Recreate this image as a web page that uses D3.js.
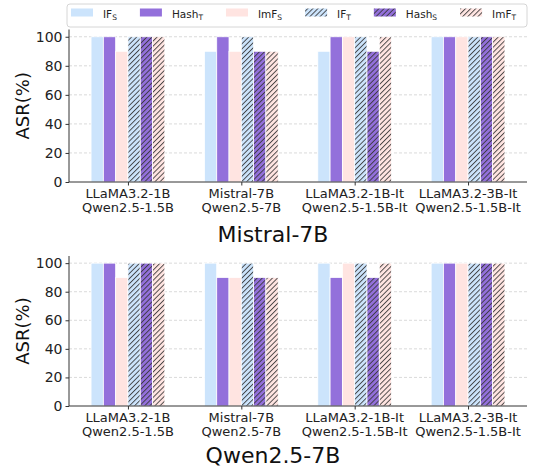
<!DOCTYPE html>
<html>
<head>
<meta charset="utf-8">
<script src="https://cdn.jsdelivr.net/npm/d3@7"></script>
<style>
body{margin:0;background:#fff;}
svg{font-family:"DejaVu Sans",sans-serif;}
</style>
</head>
<body>
<script>
var width = 533;
var height = 470;

var groups = [['LLaMA3.2-1B','Qwen2.5-1.5B'],['Mistral-7B','Qwen2.5-7B'],['LLaMA3.2-1B-It','Qwen2.5-1.5B-It'],['LLaMA3.2-3B-It','Qwen2.5-1.5B-It']];
var seriesNames = [['IF','S'],['Hash','T'],['ImF','S'],['IF','T'],['Hash','S'],['ImF','T']];
var seriesColors = ['#cce4fc','#9370db','#ffe4e1','#cce4fc','#9370db','#ffe4e1'];
var seriesHatch = [false,false,false,true,true,true];
var yTicks = [0,20,40,60,80,100];

// values per series, one entry per group
var mistralIFS   = [100, 90, 90,100];
var mistralHashT = [100,100,100,100];
var mistralImFS  = [ 90, 90,100,100];
var mistralIFT   = [100,100,100,100];
var mistralHashS = [100, 90, 90,100];
var mistralImFT  = [100, 90,100,100];

var qwenIFS   = [100,100,100,100];
var qwenHashT = [100, 90, 90,100];
var qwenImFS  = [ 90, 90,100,100];
var qwenIFT   = [100,100,100,100];
var qwenHashS = [100, 90, 90,100];
var qwenImFT  = [100, 90,100,100];

var panels = [
	{title:'Mistral-7B', series:[mistralIFS,mistralHashT,mistralImFS,mistralIFT,mistralHashS,mistralImFT], bottom:182, top:29.5, titleY:241.5},
	{title:'Qwen2.5-7B', series:[qwenIFS,qwenHashT,qwenImFS,qwenIFT,qwenHashS,qwenImFT], bottom:406, top:256, titleY:463}
];

var left = 69, right = 527;
var svg = d3.select('body').append('svg').attr('width',width).attr('height',height);

var defs = svg.append('defs');
var hs = 3.6;
seriesColors.forEach(function(c,i){
	if(!seriesHatch[i]) return;
	var p = defs.append('pattern').attr('id','hatch'+i)
		.attr('patternUnits','userSpaceOnUse').attr('width',hs).attr('height',hs)
		.attr('patternTransform','rotate(45)');
	p.append('rect').attr('width',hs).attr('height',hs).attr('fill',c);
	p.append('line').attr('x1',0.5).attr('x2',0.5).attr('y1',0).attr('y2',hs)
		.attr('stroke','#333').attr('stroke-width',0.85);
});

var x = d3.scalePoint().domain(d3.range(groups.length)).range([left,right]).padding(0.52);
var barW = 12.3;

panels.forEach(function(panel){
	var y = d3.scaleLinear().domain([0,105]).range([panel.bottom,panel.top]);
	var g = svg.append('g');

	// grid
	g.selectAll('.grid').data(yTicks.slice(1)).enter().append('line')
		.attr('x1',left).attr('x2',right)
		.attr('y1',d=>y(d)).attr('y2',d=>y(d))
		.attr('stroke','#d0d0d0').attr('stroke-width',0.8).attr('stroke-dasharray','3,2');

	// bars
	panel.series.forEach(function(vals,s){
		g.selectAll(null).data(vals).enter().append('rect')
			.attr('x',(d,i)=>x(i)+(s-3)*barW)
			.attr('width',barW)
			.attr('y',d=>y(d))
			.attr('height',d=>y(0)-y(d))
			.attr('fill',seriesHatch[s] ? 'url(#hatch'+s+')' : seriesColors[s])
			.attr('stroke','#fff').attr('stroke-width',0.8);
	});

	// y axis
	var ya = g.append('g').attr('transform','translate('+left+',0)')
		.call(d3.axisLeft(y).tickValues(yTicks).tickSize(3.5).tickPadding(3));
	ya.select('.domain').attr('stroke','#333').attr('d','M0,'+panel.top+'V'+panel.bottom);
	ya.selectAll('.tick line').attr('stroke','#333');
	ya.selectAll('.tick text').attr('font-size',14).attr('fill','#222').attr('font-family','DejaVu Sans');

	// x axis
	var xa = g.append('g').attr('transform','translate(0,'+panel.bottom+')')
		.call(d3.axisBottom(x).tickSize(3.5).tickFormat(''));
	xa.select('.domain').attr('stroke','#333').attr('d','M'+left+',0H'+right);
	xa.selectAll('.tick line').attr('stroke','#333');
	groups.forEach(function(lines,i){
		lines.forEach(function(t,k){
			g.append('text').attr('x',x(i)).attr('y',panel.bottom+15.5+k*14)
				.attr('text-anchor','middle').attr('font-size',13).attr('fill','#222').text(t);
		});
	});

	// y label
	g.append('text').attr('transform','translate(29,'+((panel.top+panel.bottom)/2)+') rotate(-90)')
		.attr('text-anchor','middle').attr('font-size',18).attr('fill','#111').text('ASR(%)');

	// title
	g.append('text').attr('x',273).attr('y',panel.titleY)
		.attr('text-anchor','middle').attr('font-size',22).attr('fill','#111').text(panel.title);
});

// legend
var legend = svg.append('g');
legend.append('rect').attr('x',67).attr('y',4).attr('width',460).attr('height',23).attr('rx',3)
	.attr('fill','#fff').attr('stroke','#ccc').attr('stroke-width',0.8);
var lx = 71;
seriesNames.forEach(function(n,i){
	legend.append('rect').attr('x',lx).attr('y',8.5).attr('width',22).attr('height',8)
		.attr('fill',seriesHatch[i] ? 'url(#hatch'+i+')' : seriesColors[i]);
	var t = legend.append('text').attr('x',lx+32).attr('y',18).attr('font-size',10.5).attr('fill','#222');
	t.append('tspan').text(n[0]);
	t.append('tspan').attr('font-size',7.5).attr('dy',2).text(n[1]);
	lx = lx + 32 + t.node().getComputedTextLength() + 23;
});
</script>
</body>
</html>
